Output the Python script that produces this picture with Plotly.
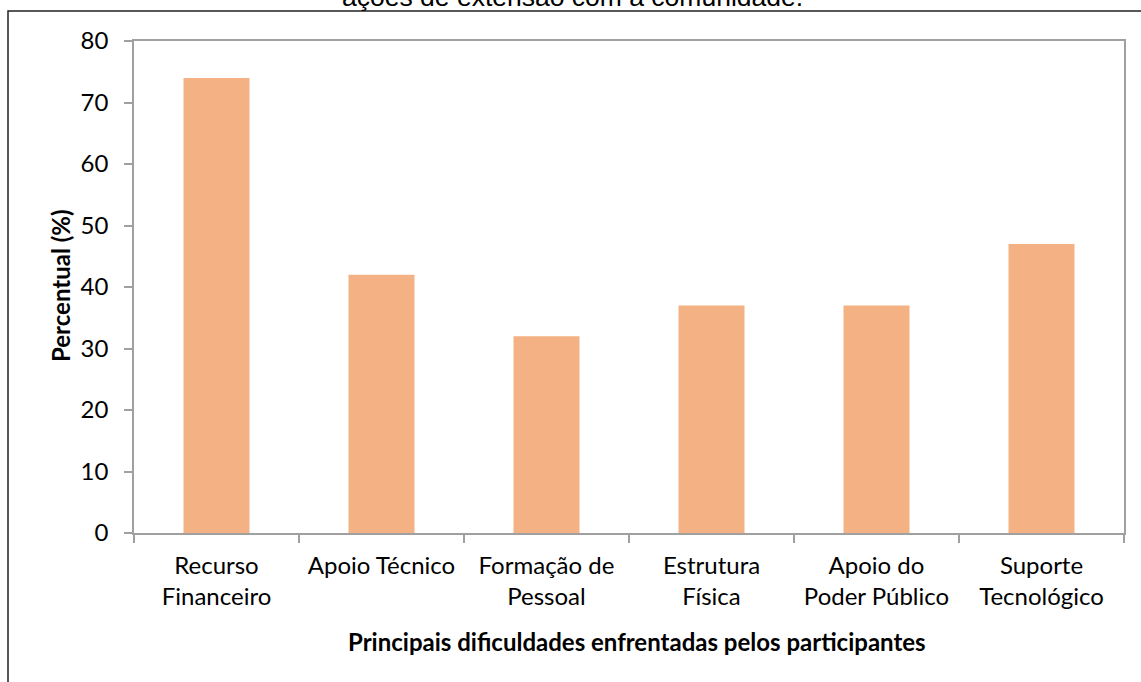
import plotly.graph_objects as go

# data
categorias = [
    "Recurso<br>Financeiro",
    "Apoio Técnico",
    "Formação de<br>Pessoal",
    "Estrutura<br>Física",
    "Apoio do<br>Poder Público",
    "Suporte<br>Tecnológico",
]
percentual = [74, 42, 32, 37, 37, 47]
y_ticks = [0, 10, 20, 30, 40, 50, 60, 70, 80]

titulo = "ações de extensão com a comunidade."
x_titulo = "Principais dificuldades enfrentadas pelos participantes"
y_titulo = "Percentual (%)"

W, H = 1141, 682
L, T = 134, 41
R, B = W - 1124, H - 533
PW, PH = W - L - R, H - T - B
FONT = "Lato, Calibri, sans-serif"
AXIS_GRAY = "#a0a0a0"


# convert page pixels (as in the reference) to paper coords
def px_x(x):
    return (x - L) / PW


def px_y(y):
    return (H - B - y) / PH


fig = go.Figure(
    go.Bar(
        x=categorias,
        y=percentual,
        width=0.4,
        marker=dict(color="#F4B183", line=dict(width=0)),
        hovertemplate="%{x}: %{y}%<extra></extra>",
    )
)

fig.update_xaxes(
    type="category",
    range=[-0.5, 5.5],
    showline=True,
    linecolor=AXIS_GRAY,
    linewidth=1.5,
    mirror=True,
    ticks="outside",
    tickson="boundaries",
    ticklen=8,
    tickcolor=AXIS_GRAY,
    tickwidth=1.5,
    showgrid=False,
    tickfont=dict(family=FONT, size=24, color="#000000"),
    ticklabelstandoff=10,
)
fig.update_yaxes(
    range=[0, 80],
    tickvals=y_ticks,
    showline=True,
    linecolor=AXIS_GRAY,
    linewidth=1.5,
    mirror=True,
    ticks="outside",
    ticklen=8,
    tickcolor=AXIS_GRAY,
    tickwidth=1.5,
    showgrid=False,
    zeroline=False,
    tickfont=dict(family=FONT, size=24, color="#000000"),
    ticklabelstandoff=11,
)

# axis titles
fig.add_annotation(
    text=x_titulo, x=px_x(637), y=px_y(641), xref="paper", yref="paper",
    xanchor="center", yanchor="middle", showarrow=False,
    font=dict(family=FONT, size=24, color="#000000", weight="bold"),
)
fig.add_annotation(
    text=y_titulo, x=px_x(60), y=px_y(286), xref="paper", yref="paper",
    xanchor="center", yanchor="middle", showarrow=False, textangle=-90,
    font=dict(family=FONT, size=24, color="#000000", weight="bold"),
)
# caption of the figure, cropped at the top edge as in the reference
fig.add_annotation(
    text=titulo, x=px_x(572), y=px_y(14), xref="paper", yref="paper",
    xanchor="center", yanchor="bottom", showarrow=False,
    font=dict(family="Liberation Sans, Arial", size=26.5, color="#000000"),
)

# outer frame of the chart object (left and top edges visible)
fig.add_shape(
    type="path", xref="paper", yref="paper",
    path=f"M {px_x(8)} {px_y(700)} L {px_x(8)} {px_y(11)} L {px_x(1160)} {px_y(11)}",
    line=dict(color="#222222", width=1.5),
)

fig.update_layout(
    width=W,
    height=H,
    margin=dict(l=L, r=R, t=T, b=B, autoexpand=False),
    paper_bgcolor="#ffffff",
    plot_bgcolor="#ffffff",
    showlegend=False,
    bargap=0.6,
)

# drop the default 8px body margin so the figure sits at the page origin
fig.write_html(
    "out.html",
    config={"displayModeBar": False},
    post_script="document.body.style.margin = '0';",
)
